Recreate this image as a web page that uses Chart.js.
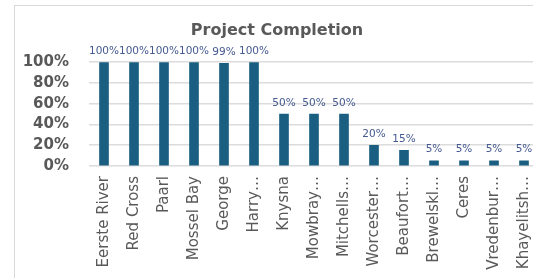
<!DOCTYPE html>
<html>
<head>
<meta charset="utf-8">
<script src="https://cdn.jsdelivr.net/npm/chart.js@4"></script>
<style>
  html, body { margin: 0; padding: 0; background: #fff; overflow: hidden; }
  #frame { position: absolute; left: 14px; top: 5px; width: 540px; height: 290px;
           border: 1px solid #d9d9d9; background: #fff; }
  #chart { position: absolute; left: 0; top: 0; }
</style>
</head>
<body>
<div id="frame">
  <canvas id="chart" width="524" height="272"></canvas>
</div>
<script>
// project names as shown on the axis (truncated like the original)
const sites = ['Eerste River', 'Red Cross', 'Paarl', 'Mossel Bay', 'George', 'Harry…',
  'Knysna', 'Mowbray…', 'Mitchells…', 'Worcester…', 'Beaufort…', 'Brewelskl…',
  'Ceres', 'Vredenbur…', 'Khayelitsh…'];
const completion = [100, 100, 100, 100, 99, 100, 50, 50, 50, 20, 15, 5, 5, 5, 5];
const yTicks = [0, 20, 40, 60, 80, 100];

const barLabels = {
  id: 'barLabels',
  afterDatasetsDraw(chart) {
    const ctx = chart.ctx;
    const meta = chart.getDatasetMeta(0);
    ctx.save();
    ctx.font = '10.5px "DejaVu Sans"';
    ctx.fillStyle = '#44598f';
    ctx.textAlign = 'center';
    ctx.textBaseline = 'bottom';
    meta.data.forEach((bar, i) => {
      ctx.fillText(completion[i] + '%', bar.x, bar.y - 6);
    });
    ctx.restore();
  }
};

new Chart(document.getElementById('chart').getContext('2d'), {
  type: 'bar',
  data: {
    labels: sites,
    datasets: [{
      label: 'Completion',
      data: completion,
      backgroundColor: '#1a5f82',
      barThickness: 9
    }]
  },
  options: {
    responsive: false,
    animation: false,
    layout: { padding: 0 },
    plugins: {
      legend: { display: false },
      tooltip: { enabled: false },
      title: {
        display: true,
        text: 'Project Completion',
        color: '#595959',
        font: { family: 'DejaVu Sans', size: 16, weight: 'bold' },
        padding: { top: 15, bottom: 22 }
      }
    },
    scales: {
      x: {
        grid: { display: false, drawTicks: false },
        border: { display: false },
        ticks: {
          color: '#595959',
          font: { family: 'DejaVu Sans', size: 15 },
          minRotation: 90,
          maxRotation: 90,
          autoSkip: false,
          padding: 10
        },
        afterFit(scale) {
          scale.height = 112;
          scale.paddingLeft = 0;
          scale.paddingRight = 0;
        }
      },
      y: {
        min: 0,
        max: 100,
        afterBuildTicks(scale) { scale.ticks = yTicks.map(v => ({ value: v })); },
        grid: { color: '#dcdcdc', lineWidth: 1.5, drawTicks: false },
        border: { display: false },
        ticks: {
          color: '#595959',
          font: { family: 'DejaVu Sans', size: 15, weight: 'bold' },
          padding: 20,
          autoSkip: false,
          callback: v => v + '%'
        },
        afterFit(scale) {
          scale.width = 74;
          scale.paddingTop = 0;
          scale.paddingBottom = 0;
        }
      }
    }
  },
  plugins: [barLabels]
});
</script>
</body>
</html>
